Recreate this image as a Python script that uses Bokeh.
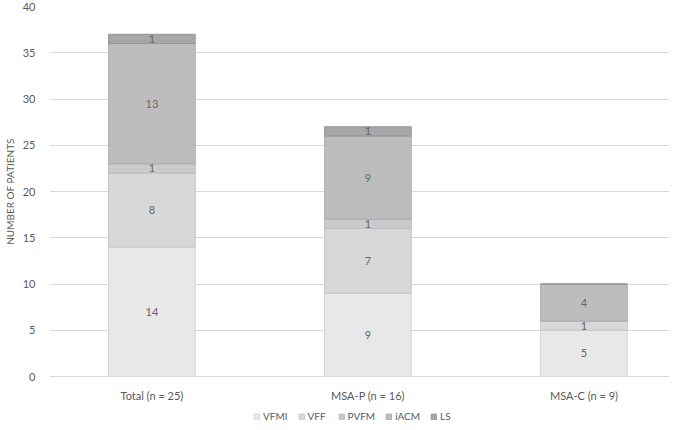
from bokeh.plotting import figure
from bokeh.layouts import column
from bokeh.models import ColumnDataSource, Range1d, FixedTicker, Legend, LegendItem
from bokeh.embed import file_html
from bokeh.resources import INLINE
from bokeh.core.properties import value
import numpy as np

categories = ["Total (n = 25)", "MSA-P (n = 16)", "MSA-C (n = 9)"]
series = ["VFMI", "VFF", "PVFM", "iACM", "LS"]
VFMI = [14, 9, 5]
VFF = [8, 7, 1]
PVFM = [1, 1, 0]
iACM = [13, 9, 4]
LS = [1, 1, 0]
y_ticks = [0, 5, 10, 15, 20, 25, 30, 35, 40]

FONT = "Lato"
TXT = "#595959"
fills = ["#e8e8e8", "#d8d8d8", "#cbcbcb", "#bdbdbd", "#a7a7a7"]
lines = ["#d6d6d6", "#c6c6c6", "#b9b9b9", "#ababab", "#959595"]

x = list(range(len(categories)))
data = {"x": x, "VFMI": VFMI, "VFF": VFF, "PVFM": PVFM, "iACM": iACM, "LS": LS}
source = ColumnDataSource(data)

p = figure(width=669, height=404, output_backend="svg", toolbar_location=None,
           x_range=Range1d(-0.474, 2.396), y_range=Range1d(0, 40),
           min_border_top=6, min_border_right=0, min_border_left=30,
           min_border_bottom=0, outline_line_color=None)

renderers = p.vbar_stack(series, x="x", width=0.401, source=source,
                         fill_color=fills, line_color=lines, line_width=1)

# segment labels
vals = np.array([VFMI, VFF, PVFM, iACM, LS], dtype=float)
bottoms = np.vstack([np.zeros(len(x)), np.cumsum(vals, axis=0)[:-1]])
lx, ly, lt = [], [], []
for i in range(vals.shape[0]):
    for j in range(vals.shape[1]):
        if vals[i, j] > 0:
            lx.append(x[j])
            ly.append(bottoms[i, j] + vals[i, j] / 2)
            lt.append(str(int(vals[i, j])))
p.text(x=lx, y=ly, text=lt, text_align="center", text_baseline="middle",
       text_font=value(FONT), text_font_size="11px", text_color="#666666")

# axes
p.xaxis.ticker = FixedTicker(ticks=x)
p.xaxis.major_label_overrides = {i: c for i, c in enumerate(categories)}
p.xaxis.major_tick_line_color = None
p.xaxis.minor_tick_line_color = None
p.xaxis.axis_line_color = "#d9d9d9"
p.xaxis.major_label_text_font = FONT
p.xaxis.major_label_text_font_size = "11px"
p.xaxis.major_label_text_color = TXT
p.xaxis.major_label_standoff = 6

p.yaxis.ticker = FixedTicker(ticks=y_ticks)
p.yaxis.axis_line_color = None
p.yaxis.major_tick_line_color = None
p.yaxis.minor_tick_line_color = None
p.yaxis.major_label_text_font = FONT
p.yaxis.major_label_text_font_size = "11px"
p.yaxis.major_label_text_color = TXT
p.yaxis.major_label_standoff = 8
p.yaxis.axis_label = "NUMBER OF PATIENTS"
p.yaxis.axis_label_text_font = FONT
p.yaxis.axis_label_text_font_size = "10px"
p.yaxis.axis_label_text_font_style = "normal"
p.yaxis.axis_label_text_color = TXT
p.yaxis.axis_label_standoff = 4

p.xgrid.grid_line_color = None
p.ygrid.grid_line_color = "#d9d9d9"
p.ygrid.ticker = FixedTicker(ticks=y_ticks)

# legend strip (separate small figure, bars kept out of view)
p2 = figure(width=669, height=18, output_backend="svg", toolbar_location=None,
            x_range=Range1d(-0.474, 2.396), y_range=Range1d(1000, 1001),
            min_border=0, outline_line_color=None)
p2.axis.visible = False
p2.grid.visible = False
leg_r = p2.vbar_stack(series, x="x", width=0.401, source=source,
                      fill_color=fills, line_color=lines, line_width=1)
legend = Legend(items=[LegendItem(label=s, renderers=[r]) for s, r in zip(series, leg_r)],
                orientation="horizontal", location=(204, 0),
                label_text_font=FONT, label_text_font_size="10px", label_text_color=TXT,
                glyph_width=7, glyph_height=7, spacing=10, label_standoff=3,
                border_line_color=None, background_fill_alpha=0, padding=2, margin=0,
                label_height=12)
p2.add_layout(legend, "center")

layout = column(p, p2, spacing=0)
open("out.html", "w").write(file_html(layout, INLINE))
